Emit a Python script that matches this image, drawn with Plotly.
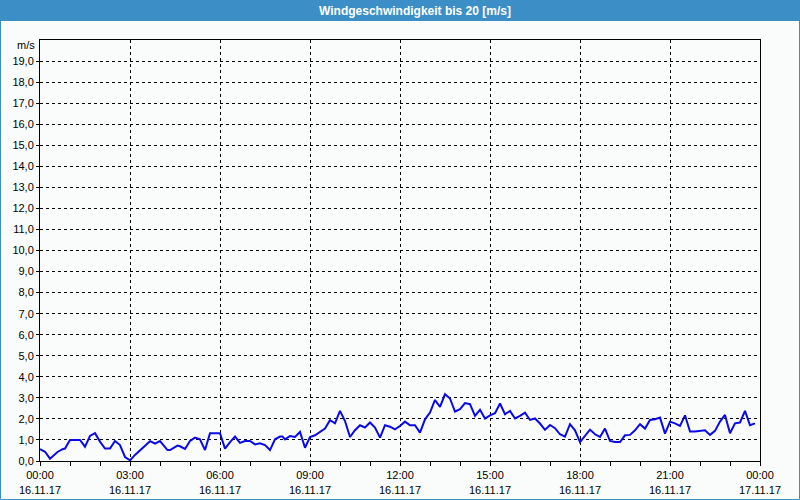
import plotly.graph_objects as go

times = [
    "00:00", "00:10", "00:20", "00:35", "00:45", "00:50", "01:00", "01:20", "01:30", "01:40",
    "01:50", "02:00", "02:10", "02:20", "02:30", "02:40", "02:50", "03:00", "03:10", "03:25",
    "03:40", "03:50", "04:00", "04:15", "04:20", "04:35", "04:40", "04:50", "05:00", "05:10",
    "05:20", "05:30", "05:40", "06:00", "06:10", "06:20", "06:30", "06:40", "06:50", "07:00",
    "07:10", "07:20", "07:30", "07:40", "07:50", "08:00", "08:05", "08:10", "08:20", "08:30",
    "08:40", "08:50", "09:00", "09:10", "09:30", "09:40", "09:50", "10:00", "10:10", "10:20",
    "10:30", "10:40", "10:50", "11:00", "11:10", "11:20", "11:30", "11:40", "11:50", "12:00",
    "12:10", "12:20", "12:30", "12:40", "12:50", "13:00", "13:10", "13:20", "13:30", "13:40",
    "13:50", "14:00", "14:10", "14:20", "14:30", "14:40", "14:50", "15:00", "15:10", "15:20",
    "15:30", "15:40", "15:50", "16:00", "16:10", "16:20", "16:30", "16:40", "16:50", "17:00",
    "17:10", "17:20", "17:30", "17:40", "17:50", "18:00", "18:10", "18:20", "18:30", "18:40",
    "18:50", "19:00", "19:10", "19:20", "19:30", "19:40", "19:50", "20:00", "20:10", "20:20",
    "20:30", "20:40", "20:50", "21:00", "21:10", "21:20", "21:30", "21:40", "21:50", "22:00",
    "22:10", "22:20", "22:30", "22:40", "22:50", "23:00", "23:10", "23:20", "23:30", "23:40",
    "23:50",
]
speed = [
    0.56, 0.44, 0.11, 0.43, 0.56, 0.59, 1.00, 1.00, 0.68, 1.19,
    1.32, 0.92, 0.59, 0.59, 0.95, 0.76, 0.19, 0.03, 0.29, 0.60,
    0.94, 0.83, 0.95, 0.52, 0.52, 0.73, 0.70, 0.57, 0.95, 1.11,
    1.03, 0.52, 1.32, 1.32, 0.59, 0.90, 1.16, 0.86, 0.95, 0.95,
    0.79, 0.84, 0.76, 0.52, 1.03, 1.16, 1.16, 1.03, 1.19, 1.14,
    1.38, 0.63, 1.14, 1.22, 1.54, 1.94, 1.79, 2.38, 1.90, 1.14,
    1.46, 1.70, 1.59, 1.83, 1.59, 1.11, 1.70, 1.63, 1.50, 1.66,
    1.87, 1.70, 1.70, 1.35, 1.98, 2.30, 2.90, 2.57, 3.17, 2.97,
    2.35, 2.46, 2.75, 2.70, 2.14, 2.43, 2.02, 2.17, 2.27, 2.73,
    2.22, 2.38, 2.02, 2.14, 2.30, 1.95, 2.02, 1.78, 1.48, 1.71,
    1.56, 1.27, 1.16, 1.75, 1.46, 0.90, 1.19, 1.49, 1.27, 1.14,
    1.54, 0.95, 0.90, 0.90, 1.22, 1.24, 1.46, 1.75, 1.54, 1.95,
    1.98, 2.06, 1.30, 1.87, 1.79, 1.67, 2.17, 1.40, 1.40, 1.43,
    1.46, 1.24, 1.43, 1.87, 2.19, 1.32, 1.79, 1.83, 2.38, 1.70,
    1.79,
]
y_ticks = list(range(0, 20))
title_text = "Windgeschwindigkeit bis 20 [m/s]"
unit_text = "m/s"

x = ["2017-11-16 " + t for t in times]

W, H = 800, 500
ML, MR, MT, MB = 40, 40, 40, 39
PW, PH = W - ML - MR, H - MT - MB


def px_x(p):
    return (p - ML) / PW


def px_y(p):
    return (H - MB - p) / PH


BG = "#fafcfb"
BAR = "#3c8fc6"
FONT = "Liberation Sans"

fig = go.Figure()
fig.add_trace(go.Scatter(
    x=x, y=speed, mode="lines",
    line=dict(color="#0a0ae8", width=2),
    hoverinfo="skip", showlegend=False,
))

fig.update_layout(
    width=W, height=H, autosize=False,
    margin=dict(l=ML, r=MR, t=MT, b=MB, pad=0, autoexpand=False),
    paper_bgcolor=BG, plot_bgcolor=BG,
    separators=",.",
    font=dict(family=FONT, size=11, color="#000000"),
    showlegend=False,
    xaxis=dict(
        type="date", automargin=False,
        range=["2017-11-16 00:00", "2017-11-17 00:00"],
        tickmode="linear", tick0="2017-11-16 00:00", dtick=3 * 3600000,
        tickformat="%H:%M<br>%d.%m.%y",
        ticks="outside", ticklen=4, tickcolor="#000000", tickwidth=1,
        minor=dict(dtick=3600000, ticks="outside", ticklen=4, tickcolor="#000000", showgrid=False),
        showgrid=True, gridcolor="#000000", gridwidth=1, griddash="dot",
        showline=True, linecolor="#000000", linewidth=1, mirror=True,
        zeroline=False, fixedrange=True,
        tickfont=dict(family=FONT, size=11, color="#000000"),
    ),
    yaxis=dict(
        range=[0, 20], automargin=False,
        tickmode="array", tickvals=y_ticks,
        tickformat=".1f",
        ticks="outside", ticklen=3, tickcolor="#000000", tickwidth=1,
        showgrid=True, gridcolor="#000000", gridwidth=1, griddash="dot",
        showline=True, linecolor="#000000", linewidth=1, mirror=True,
        zeroline=False, fixedrange=True,
        tickfont=dict(family=FONT, size=11, color="#000000"),
    ),
    shapes=[
        dict(type="rect", xref="paper", yref="paper", layer="below",
             x0=px_x(0), x1=px_x(W), y0=px_y(21), y1=px_y(0),
             fillcolor=BAR, line=dict(width=0)),
        dict(type="rect", xref="paper", yref="paper", layer="above",
             x0=px_x(0.5), x1=px_x(W - 0.5), y0=px_y(H - 0.5), y1=px_y(0.5),
             fillcolor="rgba(0,0,0,0)", line=dict(color=BAR, width=1)),
    ],
    annotations=[
        dict(text="<b>" + title_text + "</b>", xref="paper", yref="paper",
             x=px_x(415), y=px_y(10.5), xanchor="center", yanchor="middle",
             showarrow=False, font=dict(family=FONT, size=12, color="#ffffff")),
        dict(text=unit_text, xref="paper", yref="paper",
             x=px_x(37), y=px_y(45), xanchor="right", yanchor="middle",
             showarrow=False, font=dict(family=FONT, size=11, color="#000000")),
    ],
)

fig.write_html("out.html")
